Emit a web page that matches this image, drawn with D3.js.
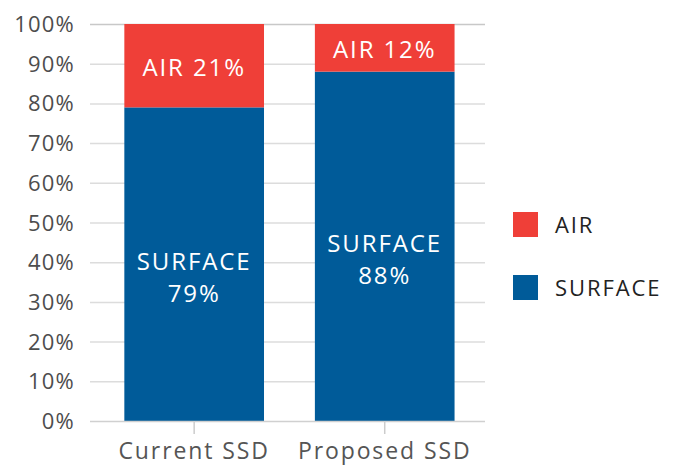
<!DOCTYPE html>
<html><head><meta charset="utf-8">
<script src="https://cdn.jsdelivr.net/npm/d3@7"></script>
<style>body{margin:0;background:#fff}svg{display:block}text{font-family:"Open Sans",sans-serif;letter-spacing:1.2px}.w{letter-spacing:1.9px}</style>
</head><body><svg id="c" width="690" height="465"></svg>
<script>
const categories = ["Current SSD", "Proposed SSD"];
const seriesNames = ["SURFACE", "AIR"];
const surface = [79, 88];
const air = [21, 12];
const yTicks = [0,10,20,30,40,50,60,70,80,90,100];
const colors = {SURFACE:"#005B99", AIR:"#EF3F38"};

const svg = d3.select("#c");
const x = d3.scaleBand().domain(categories).range([90,485]).paddingInner(0.267).paddingOuter(0.17).align(0.53);
const y = d3.scaleLinear().domain([0,100]).range([421,24]);

svg.append("g").selectAll("line").data(yTicks.filter(d=>d>0)).join("line")
  .attr("x1",90).attr("x2",485).attr("y1",d=>y(d)+0.5).attr("y2",d=>y(d)+0.5)
  .attr("stroke",d=>d===100?"#c8c8c8":"#dcdcdc").attr("stroke-width",1.5);

svg.append("g").selectAll("text").data(yTicks).join("text")
  .attr("x",75).attr("y",d=>y(d)+8).attr("text-anchor","end")
  .attr("font-size",22).attr("fill","#4d4d4d").text(d=>d+"%");

const rows = categories.map((c,i)=>({cat:c, SURFACE:surface[i], AIR:air[i]}));
const stack = d3.stack().keys(seriesNames)(rows);

svg.append("g").selectAll("g").data(stack).join("g").attr("fill",s=>colors[s.key])
  .selectAll("rect").data(s=>s).join("rect")
  .attr("x",d=>x(d.data.cat)).attr("width",x.bandwidth())
  .attr("y",d=>y(d[1])).attr("height",d=>y(d[0])-y(d[1]));

svg.append("line").attr("x1",90).attr("x2",485).attr("y1",421.5).attr("y2",421.5).attr("stroke","#d0d0d0").attr("stroke-width",1.5);
svg.append("g").selectAll("line").data(categories).join("line")
  .attr("x1",d=>x(d)+x.bandwidth()/2).attr("x2",d=>x(d)+x.bandwidth()/2)
  .attr("y1",422).attr("y2",434).attr("stroke","#ccc").attr("stroke-width",1.5);
svg.append("g").selectAll("text").data(categories).join("text").attr("class","w")
  .attr("x",d=>x(d)+x.bandwidth()/2).attr("y",459).attr("text-anchor","middle")
  .attr("font-size",23).attr("fill","#555").text(d=>d);

const airStack = stack.find(s=>s.key==="AIR");
const surfStack = stack.find(s=>s.key==="SURFACE");
svg.append("g").selectAll("text").data(airStack).join("text").attr("class","w")
  .attr("x",d=>x(d.data.cat)+x.bandwidth()/2).attr("y",d=>(y(d[0])+y(d[1]))/2+10)
  .attr("text-anchor","middle").attr("font-size",24).attr("fill","#fff")
  .text(d=>"AIR "+d.data.AIR+"%");
const sl = svg.append("g").selectAll("text").data(surfStack).join("text").attr("class","w")
  .attr("x",d=>x(d.data.cat)+x.bandwidth()/2).attr("y",d=>(y(d[0])+y(d[1]))/2+6)
  .attr("text-anchor","middle").attr("font-size",24).attr("fill","#fff");
sl.append("tspan").attr("x",d=>x(d.data.cat)+x.bandwidth()/2).text("SURFACE");
sl.append("tspan").attr("x",d=>x(d.data.cat)+x.bandwidth()/2).attr("dy",32).text(d=>d.data.SURFACE+"%");

const legendItems = ["AIR","SURFACE"];
const lg = svg.append("g").selectAll("g").data(legendItems).join("g")
  .attr("transform",(d,i)=>`translate(513,${212+i*63})`);
lg.append("rect").attr("width",25).attr("height",25).attr("fill",d=>colors[d]);
lg.append("text").attr("class","w").attr("x",42).attr("y",21).attr("font-size",22).attr("fill","#222").text(d=>d);
</script></body></html>
